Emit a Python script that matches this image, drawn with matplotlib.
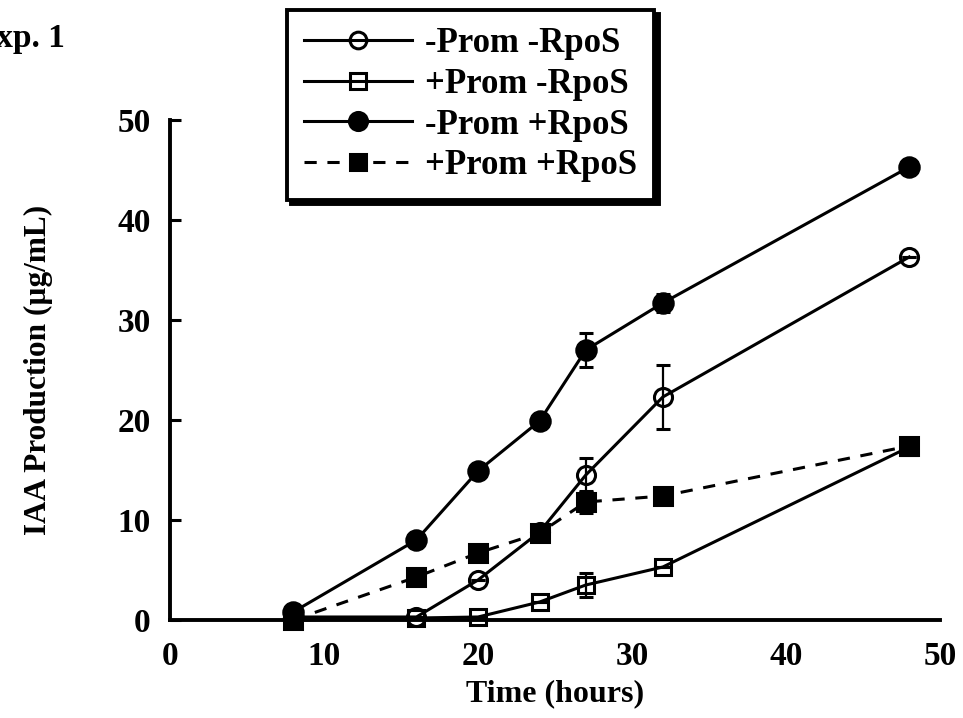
import matplotlib
matplotlib.use("Agg")
import matplotlib.pyplot as plt
from matplotlib.lines import Line2D

plt.rcParams["font.family"] = ["Liberation Serif", "DejaVu Serif"]
plt.rcParams["font.weight"] = "bold"

# Sampling times (hours)
time_h = [8, 16, 20, 24, 27, 32, 48]

# IAA production (ug/mL) per strain
minus_prom_minus_rpos = [0.3, 0.3, 4.0, 8.8, 14.5, 22.3, 36.3]
minus_prom_minus_rpos_err = [0, 0, 0, 0, 1.7, 3.2, 0]

plus_prom_minus_rpos = [0.0, 0.2, 0.3, 1.8, 3.5, 5.3, 17.3]
plus_prom_minus_rpos_err = [0, 0, 0, 0, 1.2, 0, 0]

minus_prom_plus_rpos = [0.8, 8.0, 14.9, 19.9, 27.0, 31.7, 45.3]
minus_prom_plus_rpos_err = [0, 0, 0, 0, 1.7, 0.9, 0]

plus_prom_plus_rpos = [0.0, 4.3, 6.7, 8.7, 11.8, 12.4, 17.4]
plus_prom_plus_rpos_err = [0, 0, 0, 0, 1.1, 0, 0]

series_labels = ["-Prom -RpoS", "+Prom -RpoS", "-Prom +RpoS", "+Prom +RpoS"]

x_ticks = [0, 10, 20, 30, 40, 50]
y_ticks = [0, 10, 20, 30, 40, 50]

fig = plt.figure(figsize=(9.63, 7.18), dpi=100)
ax = fig.add_axes([170 / 963, 1 - 620 / 718, 770 / 963, 500 / 718])

lw = 2.2
ms = 13
dash = (0, (4, 3.5))

styles = [
    dict(marker="o", mfc="none", ms=ms, ls="-"),
    dict(marker="s", mfc="none", ms=ms - 1, ls="-"),
    dict(marker="o", mfc="black", ms=ms + 1, ls="-"),
    dict(marker="s", mfc="black", ms=ms, ls=dash),
]
data = [
    (minus_prom_minus_rpos, minus_prom_minus_rpos_err),
    (plus_prom_minus_rpos, plus_prom_minus_rpos_err),
    (minus_prom_plus_rpos, minus_prom_plus_rpos_err),
    (plus_prom_plus_rpos, plus_prom_plus_rpos_err),
]

handles = []
for (vals, errs), st, lab in zip(data, styles, series_labels):
    ax.errorbar(time_h, vals, yerr=errs, color="black", ecolor="black",
                elinewidth=1.6, capsize=5, capthick=1.6, lw=lw,
                marker=st["marker"], mfc=st["mfc"], mec="black", mew=2.2,
                ms=st["ms"], ls=st["ls"], clip_on=False, zorder=3)
    handles.append(Line2D([], [], color="black", lw=lw, ls=st["ls"],
                          marker=st["marker"], mfc=st["mfc"], mec="black",
                          mew=2.2, ms=st["ms"] - 1))

ax.set_xlim(0, 50)
ax.set_ylim(0, 50)
ax.set_xticks(x_ticks)
ax.set_yticks(y_ticks)
ax.tick_params(axis="x", length=0, pad=15, labelsize=24)
ax.tick_params(axis="y", direction="in", length=8, width=2.2, pad=14,
               labelsize=24)
for side in ("top", "right"):
    ax.spines[side].set_visible(False)
for side in ("left", "bottom"):
    ax.spines[side].set_linewidth(2.8)

ax.set_xlabel("Time (hours)", fontsize=23, fontweight="bold", labelpad=5)
ax.set_ylabel("IAA Production (\u00b5g/mL)", fontsize=22.5, fontweight="bold",
              labelpad=46)

leg = fig.legend(handles, series_labels, loc="upper left",
                 bbox_to_anchor=(287 / 963, 1 - 10 / 718),
                 borderaxespad=0, fontsize=25, handlelength=3.1,
                 handletextpad=0.37, labelspacing=0.22, borderpad=0.5,
                 numpoints=1, fancybox=False, framealpha=1,
                 shadow={"color": "black", "alpha": 1, "ox": 3, "oy": -3})
leg.get_frame().set_edgecolor("black")
leg.get_frame().set_linewidth(2.8)

fig.text(65 / 963, 1 - 38 / 718, "Exp. 1", ha="right", va="center",
         fontsize=24, fontweight="bold")

fig.savefig("out.png", dpi=100)
